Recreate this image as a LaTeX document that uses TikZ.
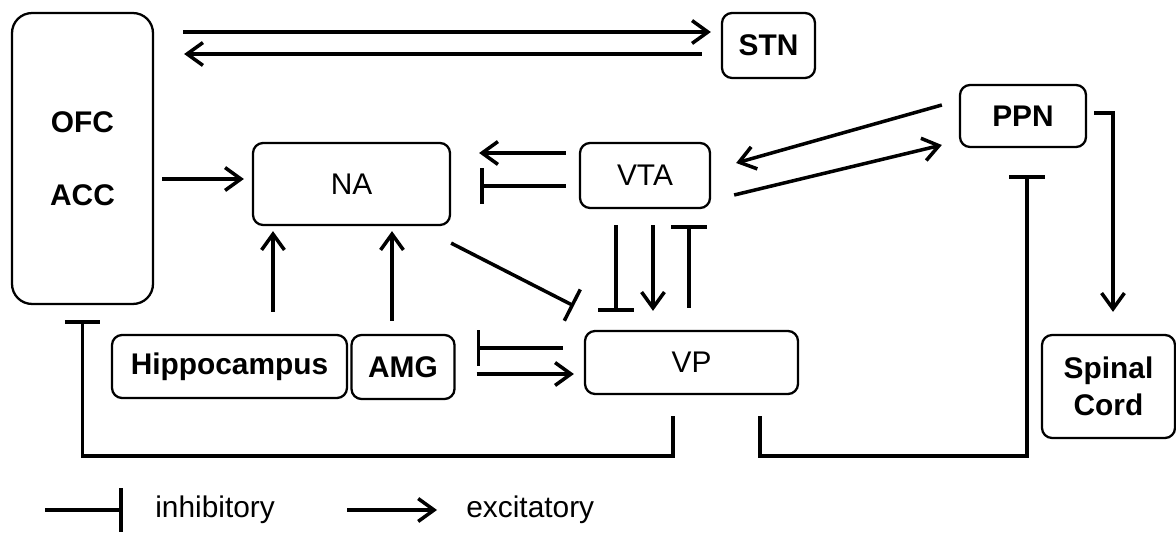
\documentclass[tikz,border=0pt]{standalone}
\usepackage{fontspec}
\setmainfont{Liberation Sans}
\usepackage{tikz}
\usetikzlibrary{arrows.meta, calc}
\newcommand{\boxfont}{\fontsize{17}{21}\selectfont}

\begin{document}
\begin{tikzpicture}[
            x=0.02cm, y=-0.02cm,
            area/.style={draw, line width=1.3pt, rounded corners=0.2cm, inner sep=0pt,
                         align=center, font=\boxfont\bfseries},
            plain/.style={area, font=\boxfont},
            legend/.style={inner sep=0pt, font=\boxfont},
            exc/.style={-{Straight Barb[length=9pt, width=13pt]}, line width=2pt},
            inh/.style={-{Bar[width=20pt]}, line width=2pt},
          ]
          \useasboundingbox (0,0) rectangle (1176,533);
          \node[area, rounded corners=0.4cm, minimum width=2.82cm, minimum height=5.82cm] (ofc) at (82.5,158.5) {OFC\\[20.4pt]ACC};
          \node[area, minimum width=1.86cm, minimum height=1.3cm] (stn) at (768.5,45.5) {STN};
          \node[area, minimum width=2.52cm, minimum height=1.24cm] (ppn) at (1023,116) {PPN};
          \node[plain, minimum width=3.94cm, minimum height=1.64cm] (na) at (351.5,184) {NA};
          \node[plain, minimum width=2.6cm, minimum height=1.3cm] (vta) at (645,175.5) {VTA};
          \node[plain, minimum width=4.26cm, minimum height=1.26cm] (vp) at (691.5,362.5) {VP};
          \node[area, minimum width=4.7cm, minimum height=1.26cm] (hip) at (229.5,366.5) {Hippocampus};
          \node[area, minimum width=2.06cm, minimum height=1.28cm] (amg) at (403,367) {AMG};
          \node[area, minimum width=2.66cm, minimum height=2.06cm] (spinal) at (1108.5,386.5) {Spinal\\Cord};
          \draw[exc] ($(ofc.east|-stn.west)+(29,-13.5)$) -- ($(stn.west)+(-10,-13.5)$);
          \draw[exc] ($(stn.west)+(-19,8.5)$) -- ($(ofc.east|-stn.west)+(30,8.5)$);
          \draw[exc] ($(ofc.east|-na.west)+(8,-5)$) -- ($(na.west)+(-8,-5)$);
          \draw[exc] ($(vta.west)+(-13,-22.5)$) -- ($(na.east|-vta.west)+(28,-22.5)$);
          \draw[inh] ($(vta.west)+(-13,10.5)$) -- ($(na.east|-vta.west)+(29,10.5)$);
          \draw[exc] ($(ppn.west)+(-17,-11)$) -- ($(vta.east)+(25,-12.5)$);
          \draw[exc] ($(vta.east)+(23,19.5)$) -- ($(ppn.west)+(-17,29)$);
          \draw[exc] ($(ppn.east)+(7,-3)$) -| ($(spinal.north)+(4.5,-22)$);
          \draw[exc] ($(hip.north)+(43.5,-22)$) -- ($(hip.north|-na.south)+(43.5,5)$);
          \draw[exc] ($(amg.north)+(-11,-13)$) -- ($(amg.north|-na.south)+(-11,5)$);
          \draw[inh] ($(na.south east)+(0,17)$) -- ($(vp.north west)+(-10,-24)$);
          \draw[inh] ($(vp.west)+(-21,-14.5)$) -- ($(amg.east|-vp.west)+(21,-14.5)$);
          \draw[exc] ($(amg.east|-vp.west)+(21,11.5)$) -- ($(vp.west)+(-10,11.5)$);
          \draw[inh] ($(vta.south)+(-29,16)$) -- ($(vta.south|-vp.north)+(-29,-18)$);
          \draw[exc] ($(vta.south)+(8,16)$) -- ($(vta.south|-vp.north)+(8,-19)$);
          \draw[inh] ($(vta.south|-vp.north)+(44,-22)$) -- ($(vta.south)+(44,16)$);
          \draw[inh] ($(vp.south)+(-18.5,21)$) -- ++(0,40) -| ($(ofc.south)+(0,15)$);
          \draw[inh] ($(vp.south)+(68.5,21)$) -- ++(0,40) -| ($(ppn.south)+(4,27)$);
          \node[legend, anchor=west] (inhlbl) at (155,510) {inhibitory};
          \node[legend, anchor=west] (exclbl) at (466,510) {excitatory};
          \draw[inh, -{Bar[width=25pt]}] ($(inhlbl.west)+(-110,0)$) -- ($(inhlbl.west)+(-32,0)$);
          \draw[exc] ($(exclbl.west)+(-119,0)$) -- ($(exclbl.west)+(-29,0)$);
        \end{tikzpicture}
\end{document}
